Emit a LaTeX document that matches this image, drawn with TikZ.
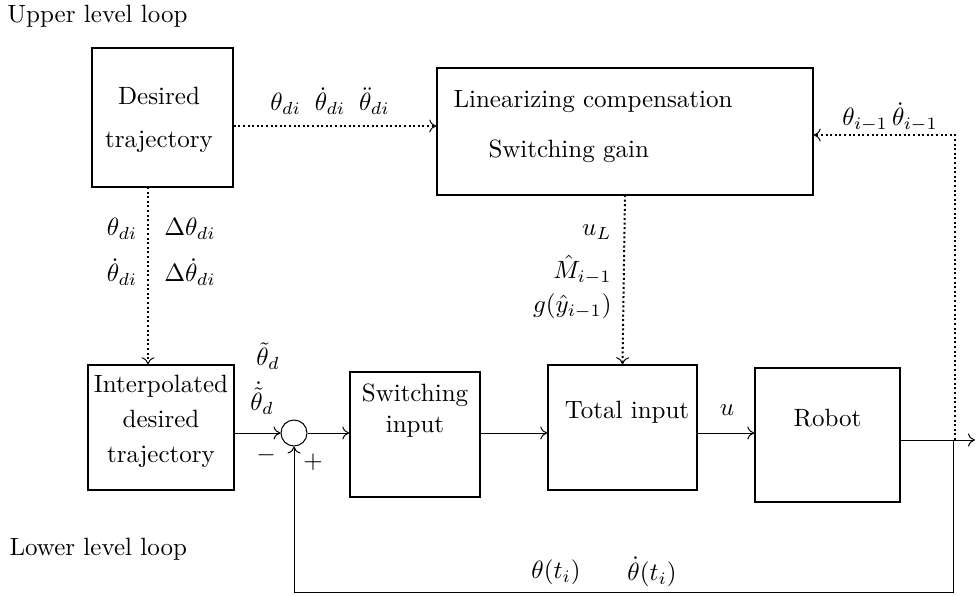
\documentclass[tikz,border=0pt]{standalone}
\usepackage{amsmath}
\usetikzlibrary{arrows.meta}
\begin{document}
\begin{tikzpicture}[x=1pt,y=-1pt,
  txt/.style={font=\fontsize{10}{12}\selectfont, inner sep=0pt, scale=2.5},
  blk/.style={draw, line width=1.4pt, minimum width=#1, inner sep=0pt},
  conn/.style={line width=1pt, -{To[length=7pt,width=13pt,line width=1pt]}},
  dconn/.style={line width=2pt, dash pattern=on 2pt off 2.6pt, -{To[length=7pt,width=13pt,line width=1pt,sep=0pt]}},
  fb/.style={line width=1pt}]
\useasboundingbox (0,0) rectangle (978,597);
% boxes
\node[blk=141pt, minimum height=139pt] (des) at (162.5,117.5) {};
\node[txt, align=center, font=\fontsize{10}{17}\selectfont] (destxt) at (159,120) {Desired\\trajectory};
\node[blk=376pt, minimum height=127pt] (lin) at (625,131.5) {};
\node[txt, anchor=base west] (lin1) at (453,107) {Linearizing compensation};
\node[txt, anchor=base west] (lin2) at (488,157) {Switching gain};
\node[blk=146pt, minimum height=125pt] (int) at (161,427.5) {};
\node[txt, align=center, font=\fontsize{10}{14}\selectfont] (inttxt) at (161,421) {Interpolated\\desired\\trajectory};
\node[blk=130pt, minimum height=125pt] (sw) at (415,434.5) {};
\node[txt, align=center, font=\fontsize{10}{12.4}\selectfont] (swtxt) at (415,411) {Switching\\input};
\node[blk=149pt, minimum height=125pt] (tot) at (622.5,427.5) {};
\node[txt, anchor=base] (tottxt) at (627,418) {Total input};
\node[blk=145pt, minimum height=134pt] (rob) at (827.5,435) {};
\node[txt] (robtxt) at (827.5,418) {Robot};
\node[circle, draw, line width=1pt, minimum size=26pt, inner sep=0pt] (sum) at (294,433) {};
% coordinates
\coordinate (out) at (975,440);
\coordinate (tap) at (955,440);
\coordinate (up) at (955,135);
\coordinate (dn) at (953,592);
\coordinate (lft) at (294,592);
% solid connectors
\draw[conn] (int.east |- sum) -- (sum.west);
\draw[conn] (sum.east) -- (sw.west |- sum);
\draw[conn] (sw.east |- sum) -- (tot.west |- sum);
\draw[conn] (tot.east |- sum) -- (rob.west |- sum);
\draw[conn] (rob.east |- out) -- (out);
\draw[fb, conn] (dn |- out) -- (dn) -- (lft) -- (sum.south);
% dotted connectors
\draw[dconn] (des.east |- 0,126) -- (lin.west |- 0,126);
\draw[dconn] (148,187) -- (int.north -| 148,0);
\draw[dconn] (tap) -- (up) -- (lin.east |- up);
\draw[dconn] (625,195) -- (tot.north);
% labels
\node[txt] (l1) at (330,101) {$\theta_{di}\;\;\dot\theta_{di}\;\;\ddot\theta_{di}$};
\node[txt] (l2) at (122,229) {$\theta_{di}$};
\node[txt] (l3) at (190,229) {$\Delta\theta_{di}$};
\node[txt] (l4) at (122,272) {$\dot\theta_{di}$};
\node[txt] (l5) at (190,272) {$\Delta\dot\theta_{di}$};
\node[txt, anchor=east] (l6) at (612,232) {$u_L$};
\node[txt, anchor=east] (l7) at (612,270) {$\hat M_{i-1}$};
\node[txt, anchor=east] (l8) at (612,306) {$g(\hat y_{i-1})$};
\node[txt] (l9) at (890,117) {$\theta_{i-1}\,\dot\theta_{i-1}$};
\node[txt] (l10) at (268,356) {$\tilde\theta_d$};
\node[txt] (l11) at (262,398) {$\dot{\tilde\theta}_d$};
\node[txt] (l12) at (266,455) {$-$};
\node[txt] (l13) at (313,462) {$+$};
\node[txt] (l14) at (727,410) {$u$};
\node[txt] (l15) at (556,572) {$\theta(t_i)$};
\node[txt] (l16) at (652,572) {$\dot\theta(t_i)$};
\node[txt, anchor=base west] (up1) at (7,23) {Upper level loop};
\node[txt, anchor=base west] (lo1) at (9,555) {Lower level loop};
\end{tikzpicture}
\end{document}
